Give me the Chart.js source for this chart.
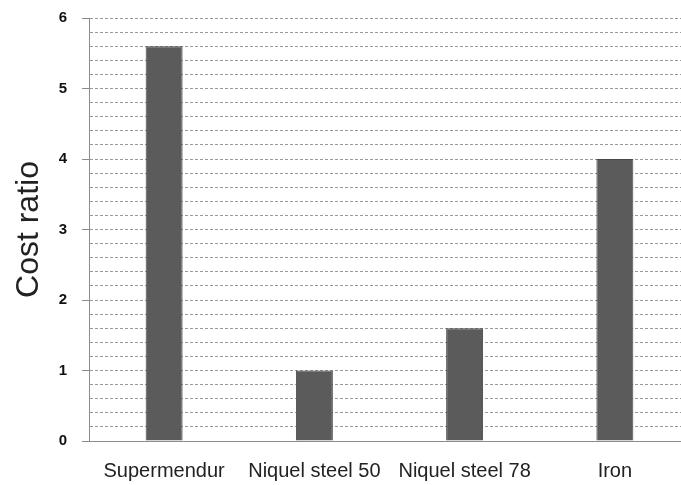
<!DOCTYPE html>
<html lang="en">

<head>
  <meta charset="UTF-8">
  <title>Cost ratio</title>
  <script src="https://cdn.jsdelivr.net/npm/chart.js"></script>
  <style>
    html, body { margin: 0; padding: 0; background: #ffffff; overflow: hidden; }
    .chart-container { position: relative; width: 692px; height: 485px; }
  </style>
</head>

<body>
  <div class="chart-container">
    <canvas id="costChart"></canvas>
  </div>

<script>
  // dados do gráfico
  const materiais = ['Supermendur', 'Niquel steel 50', 'Niquel steel 78', 'Iron'];
  const custoRelativo = [5.6, 1.0, 1.6, 4.0];
  const eixoY = { min: 0, max: 6, passo: 0.2 };

  const corGrade = '#9a9a9a';
  const corTexto = '#222222';

  function ehInteiro(v) {
    return Math.abs(v - Math.round(v)) < 1e-6;
  }

  const ctx = document.getElementById('costChart').getContext('2d');
  const costChart = new Chart(ctx, {
    type: 'bar',
    data: {
      labels: materiais,
      datasets: [{
        label: 'Cost ratio',
        data: custoRelativo,
        backgroundColor: '#5b5b5b',
        borderColor: '#474747',
        borderWidth: 1,
        barPercentage: 0.246,
        categoryPercentage: 1.0
      }]
    },
    options: {
      responsive: true,
      maintainAspectRatio: false,
      animation: false,
      layout: { padding: { top: 18, right: 2, bottom: 0, left: 0 } },
      plugins: {
        legend: { display: false },
        tooltip: { enabled: false }
      },
      scales: {
        x: {
          grid: { display: false, drawTicks: false },
          border: { display: true, color: '#8c8c8c', width: 1 },
          ticks: {
            color: corTexto,
            padding: 18,
            maxRotation: 0,
            autoSkip: false,
            font: { family: '"Liberation Sans", Arial, sans-serif', size: 20 }
          },
          afterFit: function (scale) { scale.height = 44; }
        },
        y: {
          min: eixoY.min,
          max: eixoY.max,
          grid: {
            color: corGrade,
            lineWidth: 1,
            drawTicks: true,
            tickLength: 7,
            tickColor: function (c) {
              return (c.tick && ehInteiro(c.tick.value)) ? '#8c8c8c' : 'rgba(0,0,0,0)';
            }
          },
          border: { display: true, color: '#8c8c8c', width: 1, dash: [3, 2] },
          ticks: {
            stepSize: eixoY.passo,
            autoSkip: false,
            padding: 15,
            color: '#111111',
            font: { family: '"Liberation Sans", Arial, sans-serif', size: 15, weight: 'bold' },
            callback: function (v) { return ehInteiro(v) ? Math.round(v) : ''; }
          },
          title: {
            display: true,
            text: 'Cost ratio',
            color: corTexto,
            padding: { top: 10, bottom: 0 },
            font: { family: '"Liberation Sans", Arial, sans-serif', size: 32 }
          },
          afterFit: function (scale) {
            // a área do gráfico fica definida só pelo layout.padding
            scale.width = 89;
            scale.paddingTop = 0;
            scale.paddingBottom = 0;
          }
        }
      }
    }
  });
</script>
</body>

</html>
